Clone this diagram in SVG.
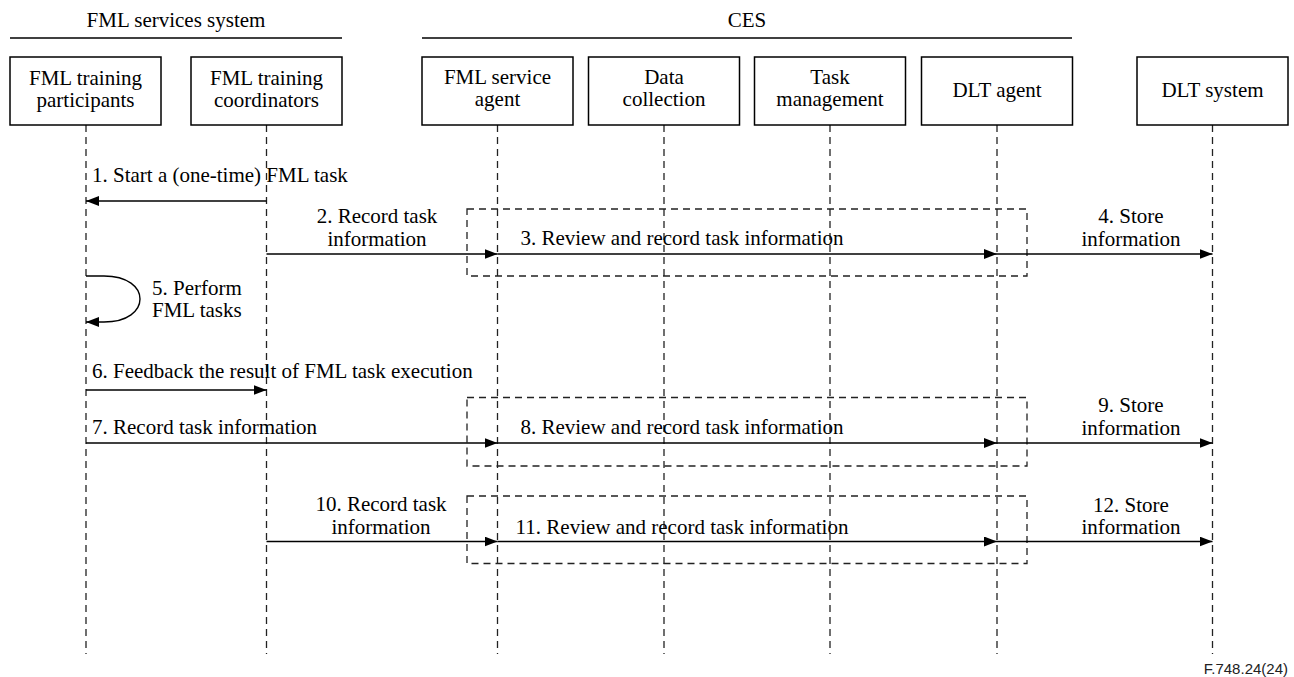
<svg xmlns="http://www.w3.org/2000/svg" width="1294" height="677" viewBox="0 0 1294 677">
  <style>
    .bg { fill: #ffffff; }
    .box { fill: #ffffff; stroke: #000000; stroke-width: 1.5; }
    .hdr { stroke: #000000; stroke-width: 1.5; fill: none; }
    .life { stroke: #222222; stroke-width: 1.3; stroke-dasharray: 7 5; fill: none; }
    .frame { stroke: #222222; stroke-width: 1.3; stroke-dasharray: 7 5; fill: none; }
    .msg { stroke: #000000; stroke-width: 1.4; fill: none; marker-end: url(#arrow); }
    .t { font-family: "Times New Roman", "Liberation Serif", Tinos, "Nimbus Roman", "DejaVu Serif", "Noto Serif", FreeSerif, serif; font-size: 21px; fill: #000000; }
    .c { text-anchor: middle; }
    .fig { font-family: "Liberation Sans", Arial, sans-serif; font-size: 15px; text-anchor: end; fill: #222222; }
  </style>
  <defs>
    <marker id="arrow" markerUnits="userSpaceOnUse" markerWidth="14" markerHeight="11" refX="13" refY="5" orient="auto">
      <path d="M0,0 L13,5 L0,10 Z" fill="#000000"/>
    </marker>
  </defs>

  <rect class="bg" x="0" y="0" width="1294" height="677"/>

  <!-- system group headers -->
  <g id="headers" class="t">
    <text class="c" x="176" y="27">FML services system</text>
    <line class="hdr" x1="10" y1="38" x2="342" y2="38"/>
    <text class="c" x="747" y="27">CES</text>
    <line class="hdr" x1="422" y1="38" x2="1072" y2="38"/>
  </g>

  <!-- lifelines -->
  <g id="lifelines">
    <line class="life" x1="86" y1="125" x2="86" y2="654"/>
    <line class="life" x1="266.5" y1="125" x2="266.5" y2="654"/>
    <line class="life" x1="497.5" y1="125" x2="497.5" y2="654"/>
    <line class="life" x1="664" y1="125" x2="664" y2="654"/>
    <line class="life" x1="830" y1="125" x2="830" y2="654"/>
    <line class="life" x1="997" y1="125" x2="997" y2="654"/>
    <line class="life" x1="1212.5" y1="125" x2="1212.5" y2="654"/>
  </g>

  <!-- participants -->
  <g id="participants-node" class="t">
    <rect class="box" x="10" y="57" width="151" height="68"/>
    <text class="c" x="85.5" y="85">FML training</text>
    <text class="c" x="85.5" y="107">participants</text>
  </g>
  <g id="coordinators-node" class="t">
    <rect class="box" x="191" y="57" width="151" height="68"/>
    <text class="c" x="266.5" y="85">FML training</text>
    <text class="c" x="266.5" y="107">coordinators</text>
  </g>
  <g id="service-agent-node" class="t">
    <rect class="box" x="422" y="57" width="151" height="68"/>
    <text class="c" x="497.5" y="84">FML service</text>
    <text class="c" x="497.5" y="106">agent</text>
  </g>
  <g id="data-collection-node" class="t">
    <rect class="box" x="588.5" y="57" width="151" height="68"/>
    <text class="c" x="664" y="84">Data</text>
    <text class="c" x="664" y="106">collection</text>
  </g>
  <g id="task-management-node" class="t">
    <rect class="box" x="754.5" y="57" width="151" height="68"/>
    <text class="c" x="830" y="84">Task</text>
    <text class="c" x="830" y="106">management</text>
  </g>
  <g id="dlt-agent-node" class="t">
    <rect class="box" x="921.5" y="57" width="151" height="68"/>
    <text class="c" x="997" y="97">DLT agent</text>
  </g>
  <g id="dlt-system-node" class="t">
    <rect class="box" x="1137" y="57" width="151" height="68"/>
    <text class="c" x="1212.5" y="97">DLT system</text>
  </g>

  <!-- CES processing frames -->
  <g id="frames">
    <rect class="frame" x="467" y="209" width="560" height="67"/>
    <rect class="frame" x="467" y="397.5" width="560" height="68.5"/>
    <rect class="frame" x="467" y="496" width="560" height="67.5"/>
  </g>

  <!-- messages -->
  <g id="connectors">
    <line class="msg" x1="266.5" y1="201" x2="86" y2="201"/>
    <line class="msg" x1="266.5" y1="254" x2="497.5" y2="254"/>
    <line class="msg" x1="497.5" y1="254" x2="997" y2="254"/>
    <line class="msg" x1="997" y1="254" x2="1212.5" y2="254"/>
    <path class="msg" d="M86,276 L104,276 C152,276 152,322 104,322 L86,322"/>
    <line class="msg" x1="86" y1="390" x2="266.5" y2="390"/>
    <line class="msg" x1="86" y1="443" x2="497.5" y2="443"/>
    <line class="msg" x1="497.5" y1="443" x2="997" y2="443"/>
    <line class="msg" x1="997" y1="443" x2="1212.5" y2="443"/>
    <line class="msg" x1="266.5" y1="541.5" x2="497.5" y2="541.5"/>
    <line class="msg" x1="497.5" y1="541.5" x2="997" y2="541.5"/>
    <line class="msg" x1="997" y1="541.5" x2="1212.5" y2="541.5"/>
  </g>

  <!-- message labels -->
  <g id="labels" class="t">
    <text x="92" y="182">1. Start a (one-time) FML task</text>
    <text class="c" x="377" y="223">2. Record task</text>
    <text class="c" x="377" y="246">information</text>
    <text class="c" x="682" y="245">3. Review and record task information</text>
    <text class="c" x="1131" y="223">4. Store</text>
    <text class="c" x="1131" y="246">information</text>
    <text x="152" y="295">5. Perform</text>
    <text x="152" y="317">FML tasks</text>
    <text x="92" y="378">6. Feedback the result of FML task execution</text>
    <text x="92" y="434">7. Record task information</text>
    <text class="c" x="682" y="434">8. Review and record task information</text>
    <text class="c" x="1131" y="412">9. Store</text>
    <text class="c" x="1131" y="435">information</text>
    <text class="c" x="381" y="511">10. Record task</text>
    <text class="c" x="381" y="534">information</text>
    <text class="c" x="682" y="534">11. Review and record task information</text>
    <text class="c" x="1131" y="512">12. Store</text>
    <text class="c" x="1131" y="534">information</text>
  </g>

  <text class="fig" x="1288" y="674">F.748.24(24)</text>
</svg>
